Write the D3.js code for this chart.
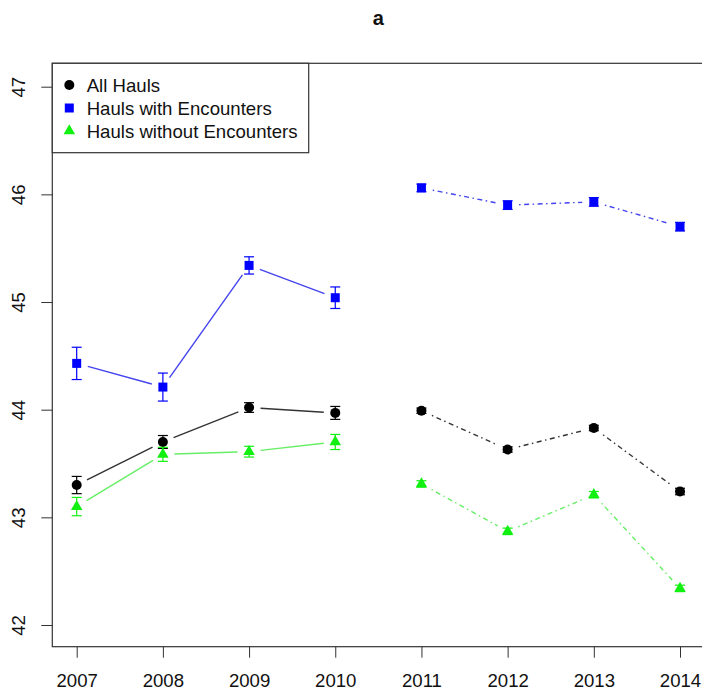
<!DOCTYPE html>
<html>
<head>
<meta charset="utf-8">
<script src="https://cdn.jsdelivr.net/npm/d3@7/dist/d3.min.js"></script>
<style>
  html, body { margin: 0; padding: 0; background: #fff; }
  svg { display: block; font-family: "Liberation Sans", Arial, Helvetica, sans-serif; }
</style>
</head>
<body>
<svg id="chart" width="702" height="698"></svg>
<script>
// Years on the x axis
const years = [2007, 2008, 2009, 2010, 2011, 2012, 2013, 2014];
const yTicks = [42, 43, 44, 45, 46, 47];

// Mean values per year
const allHauls      = [43.30, 43.70, 44.02, 43.97, 43.99, 43.63, 43.83, 43.24];
const withEnc       = [44.43, 44.21, 45.34, 45.04, 46.06, 45.90, 45.93, 45.70];
const withoutEnc    = [43.10, 43.585, 43.61, 43.70, 43.31, 42.87, 43.21, 42.34];

// Half-widths of the error bars
const allHaulsErr   = [0.08, 0.06, 0.045, 0.06, 0.025, 0.025, 0.025, 0.03];
const withEncErr    = [0.15, 0.13, 0.08, 0.10, 0.035, 0.04, 0.04, 0.04];
const withoutEncErr = [0.085, 0.065, 0.05, 0.07, 0.03, 0.03, 0.03, 0.03];

const seriesNames = ["All Hauls", "Hauls with Encounters", "Hauls without Encounters"];

const series = [
  { name: seriesNames[0], values: allHauls,   errs: allHaulsErr,   color: "#000000", line: "#333333", shape: "circle" },
  { name: seriesNames[1], values: withEnc,    errs: withEncErr,    color: "#0000ff", line: "#4444ee", shape: "square" },
  { name: seriesNames[2], values: withoutEnc, errs: withoutEncErr, color: "#11f011", line: "#66ee66", shape: "triangle" }
];

const svg = d3.select("#chart");

// Plot region
const plotLeft = 52.3, plotRight = 704.4, plotTop = 63.3, plotBottom = 646.7;
const x = d3.scaleLinear().domain([2006.717, 2014.283]).range([plotLeft, plotRight]);
const y = d3.scaleLinear().domain([42, 47]).range([625, 86.7]);

const fontSize = 18.6;

// Title
svg.append("text")
  .attr("x", (plotLeft + plotRight) / 2).attr("y", 18)
  .attr("text-anchor", "middle").attr("dominant-baseline", "central")
  .attr("font-weight", "bold").attr("font-size", 20).attr("fill", "#111")
  .text("a");

// Axes
const xAxis = d3.axisBottom(x).tickValues(years).tickFormat(d3.format("d")).tickSize(11).tickPadding(16);
const gx = svg.append("g").attr("transform", `translate(0,${plotBottom})`).call(xAxis);
gx.select(".domain").remove();
gx.selectAll(".tick line").attr("stroke", "#333");
gx.selectAll(".tick text").attr("font-size", fontSize).attr("fill", "#111")
  .attr("font-family", "inherit");

const yAxis = d3.axisLeft(y).tickValues(yTicks).tickSize(11).tickFormat(d3.format("d"));
const gy = svg.append("g").attr("transform", `translate(${plotLeft},0)`).call(yAxis);
gy.select(".domain").remove();
gy.selectAll(".tick line").attr("stroke", "#333");
gy.selectAll(".tick text")
  .attr("font-size", fontSize).attr("fill", "#111").attr("font-family", "inherit")
  .attr("x", null).attr("dy", null)
  .attr("text-anchor", "middle").attr("dominant-baseline", "central")
  .attr("transform", "translate(-34,0) rotate(-90)");

// Plot box
svg.append("rect")
  .attr("x", plotLeft).attr("y", plotTop).attr("width", plotRight - plotLeft).attr("height", plotBottom - plotTop)
  .attr("fill", "none").attr("stroke", "#333").attr("stroke-width", 1.2);

// Marker drawing
function drawMarker(g, shape, cx, cy, color) {
  if (shape === "circle") {
    g.append("circle").attr("cx", cx).attr("cy", cy).attr("r", 5).attr("fill", color);
  } else if (shape === "square") {
    g.append("rect").attr("x", cx - 4.5).attr("y", cy - 4.5).attr("width", 9).attr("height", 9).attr("fill", color);
  } else {
    const s = 11.5, h = s * Math.sqrt(3) / 2;
    g.append("path")
      .attr("d", `M${cx},${cy - h * 2 / 3}L${cx + s / 2},${cy + h / 3}L${cx - s / 2},${cy + h / 3}Z`)
      .attr("fill", color);
  }
}

const periods = [
  { idx: [0, 1, 2, 3], dash: null },
  { idx: [4, 5, 6, 7], dash: "1.5,3.5,5,3.5" }
];
const gap = 11.5;

series.forEach(s => {
  const g = svg.append("g");
  // Connecting lines with gaps around the markers
  periods.forEach(p => {
    for (let k = 0; k < p.idx.length - 1; k++) {
      const i = p.idx[k], j = p.idx[k + 1];
      const x1 = x(years[i]), y1 = y(s.values[i]);
      const x2 = x(years[j]), y2 = y(s.values[j]);
      const len = Math.hypot(x2 - x1, y2 - y1);
      const ux = (x2 - x1) / len, uy = (y2 - y1) / len;
      g.append("line")
        .attr("x1", x1 + ux * gap).attr("y1", y1 + uy * gap)
        .attr("x2", x2 - ux * gap).attr("y2", y2 - uy * gap)
        .attr("stroke", s.line).attr("stroke-width", 1.4)
        .attr("stroke-dasharray", p.dash);
    }
  });
  // Error bars
  years.forEach((yr, i) => {
    const cx = x(yr), hi = y(s.values[i] + s.errs[i]), lo = y(s.values[i] - s.errs[i]);
    g.append("line").attr("x1", cx).attr("x2", cx).attr("y1", hi).attr("y2", lo)
      .attr("stroke", s.color).attr("stroke-width", 1.2);
    [hi, lo].forEach(v => g.append("line")
      .attr("x1", cx - 5).attr("x2", cx + 5).attr("y1", v).attr("y2", v)
      .attr("stroke", s.color).attr("stroke-width", 1.2));
  });
  // Markers
  years.forEach((yr, i) => drawMarker(g, s.shape, x(yr), y(s.values[i]), s.color));
});

// Legend
const lg = svg.append("g");
lg.append("rect").attr("x", plotLeft).attr("y", plotTop).attr("width", 256.4).attr("height", 89.4)
  .attr("fill", "#fff").attr("stroke", "#333").attr("stroke-width", 1.2);
series.forEach((s, i) => {
  const cy = 85 + i * 23;
  drawMarker(lg, s.shape, 69.3, cy, s.color);
  lg.append("text").attr("x", 86.7).attr("y", cy)
    .attr("dominant-baseline", "central").attr("font-size", fontSize).attr("fill", "#111")
    .text(s.name);
});
</script>
</body>
</html>
